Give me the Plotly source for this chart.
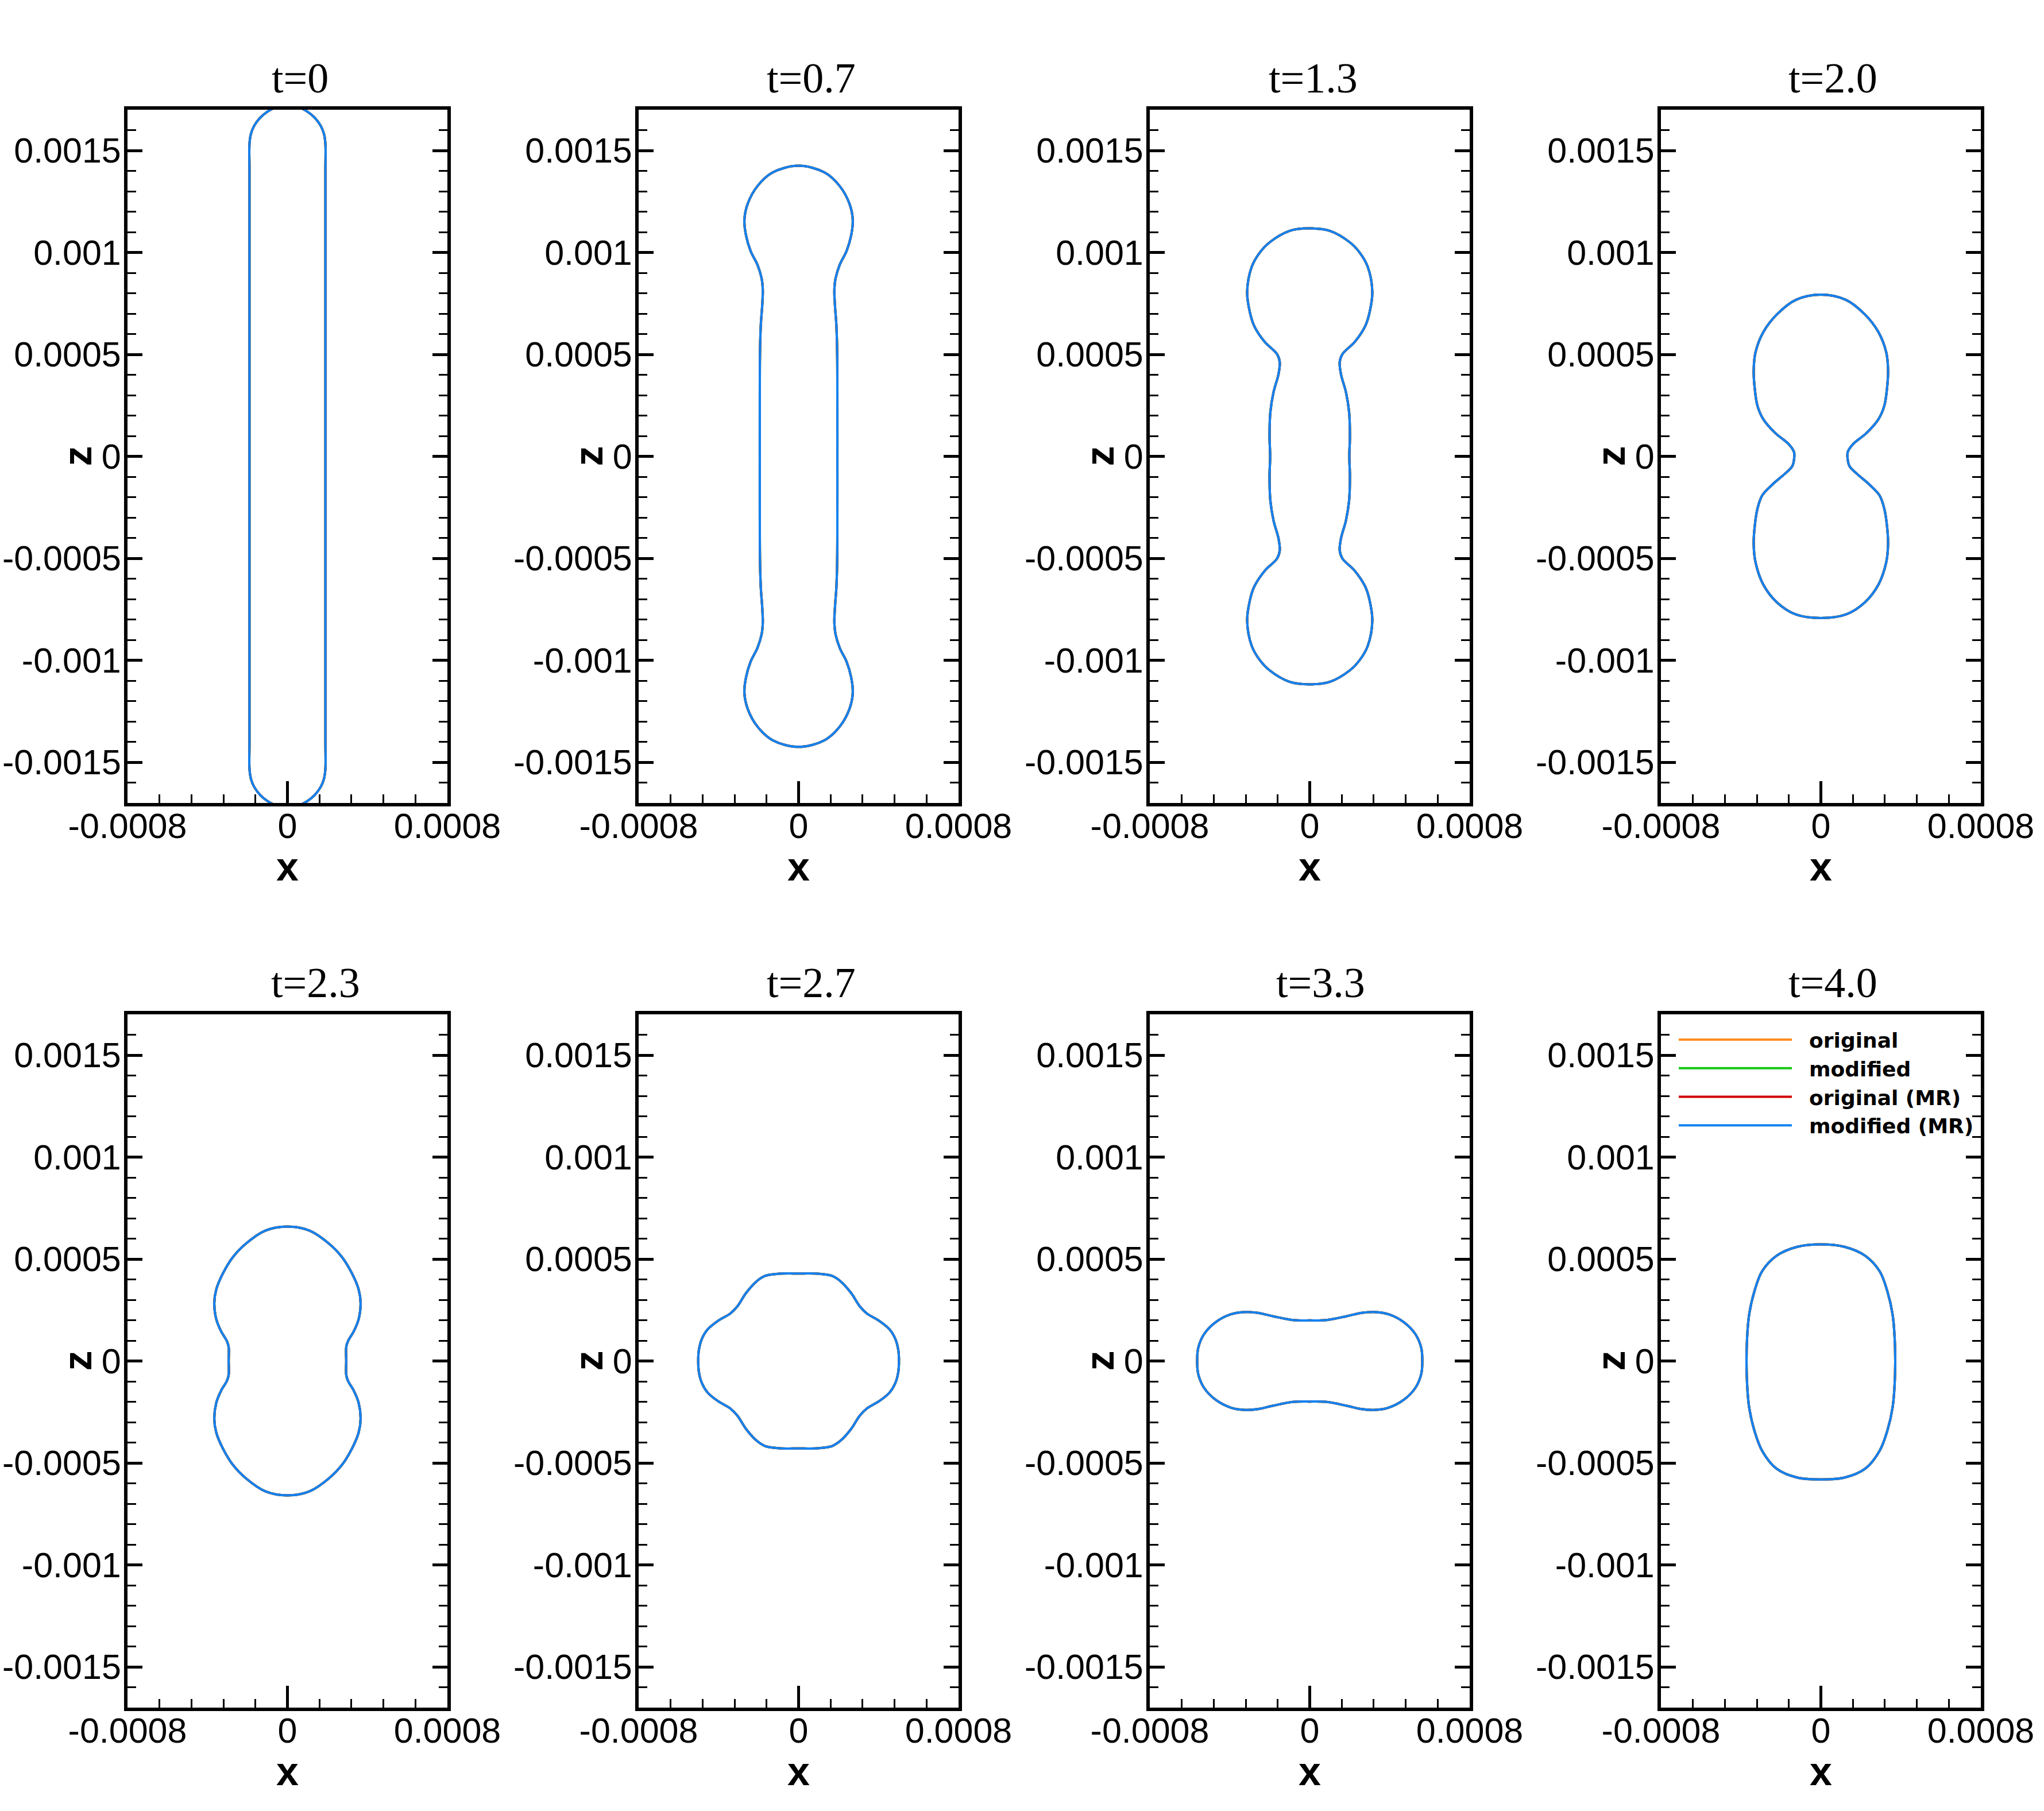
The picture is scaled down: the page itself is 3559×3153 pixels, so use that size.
import plotly.graph_objects as go

W, H = 3559, 3153

TITLES = ["t=0", "t=0.7", "t=1.3", "t=2.0", "t=2.3", "t=2.7", "t=3.3", "t=4.0"]
SERIES = ["original", "modified", "original (MR)", "modified (MR)"]
COLORS = ["#ff8c1e", "#14c814", "#d20000", "#1482f0"]

Y_TICKS = [-0.0015, -0.001, -0.0005, 0, 0.0005, 0.001, 0.0015]
Y_TICKTEXT = ["-0.0015", "-0.001", "-0.0005", "0", "0.0005", "0.001", "0.0015"]
X_TICKS = [-0.0008, 0, 0.0008]
X_TICKTEXT = ["-0.0008", "0", "0.0008"]

# Right half of each drop outline (x >= 0), listed from top to bottom
R_T00 = [0, 0.000061, 0.000101, 0.000137, 0.000167, 0.000183, 0.00019, 0.00019, 0.00019, 0.00019,
         0.00019, 0.00019, 0.00019, 0.000183, 0.000167, 0.000137, 0.000101, 0.000061, 0]
Z_T00 = [0.00172, 0.00171, 0.00169, 0.00166, 0.00162, 0.00158, 0.00153, 0.0014, 0.0007, 0.0,
         -0.0007, -0.0014, -0.00153, -0.00158, -0.00162, -0.00166, -0.00169, -0.00171, -0.00172]

R_T07 = [0, 0.00013, 0.000206, 0.000254, 0.000271, 0.000263, 0.00024, 0.000206, 0.000185, 0.000179,
         0.000182, 0.000189, 0.000193, 0.000194, 0.000194, 0.000194, 0.000193, 0.000189, 0.000182,
         0.000179, 0.000185, 0.000206, 0.00024, 0.000263, 0.000271, 0.000254, 0.000206, 0.00013, 0]
Z_T07 = [0.001425, 0.001392, 0.001325, 0.00124, 0.00116, 0.001084, 0.001007, 0.00094, 0.000873, 0.000816,
         0.000739, 0.000643, 0.000509, 0.00025, 0.0, -0.00025, -0.000509, -0.000643, -0.000739,
         -0.000816, -0.000873, -0.00094, -0.001007, -0.001084, -0.00116, -0.00124, -0.001325, -0.001392, -0.001425]

R_T13 = [0, 0.0001, 0.0002, 0.00025, 0.00029, 0.000313, 0.0003, 0.000278, 0.000225, 0.000164, 0.00015,
         0.000156, 0.000181, 0.000197, 0.000201, 0.000198, 0.000201, 0.000197, 0.000181, 0.000156,
         0.00015, 0.000164, 0.000225, 0.000278, 0.0003, 0.000313, 0.00029, 0.00025, 0.0002, 0.0001, 0]
Z_T13 = [0.001118, 0.001106, 0.00105, 0.000999, 0.00093, 0.000807, 0.000709, 0.00064, 0.000561, 0.000502, 0.000463,
         0.000404, 0.000315, 0.000217, 0.000098, 0.0, -0.000098, -0.000217, -0.000315, -0.000404,
         -0.000463, -0.000502, -0.000561, -0.00064, -0.000709, -0.000807, -0.00093, -0.000999, -0.00105, -0.001106, -0.001118]

R_T20 = [0, 0.000124, 0.00022, 0.000288, 0.000327, 0.000336, 0.000331, 0.000317, 0.000288, 0.00023,
         0.000162, 0.000135, 0.000133, 0.000143, 0.000182, 0.00024, 0.000293, 0.000317, 0.000331,
         0.000336, 0.000327, 0.000288, 0.00022, 0.000124, 0]
Z_T20 = [0.000793, 0.000768, 0.000696, 0.000609, 0.00051, 0.000423, 0.000335, 0.000247, 0.000182, 0.000116,
         0.000061, 0.000023, -0.000004, -0.000048, -0.000087, -0.000136, -0.000191, -0.000256, -0.000344,
         -0.000431, -0.000519, -0.000629, -0.000716, -0.000776, -0.000793]

R_T23 = [0, 0.000111, 0.000207, 0.000274, 0.000323, 0.000356, 0.000366, 0.000356, 0.000332, 0.000303,
         0.000294, 0.000294, 0.000294, 0.000303, 0.000332, 0.000356, 0.000366, 0.000356, 0.000323,
         0.000274, 0.000207, 0.000111, 0]
Z_T23 = [0.000659, 0.000639, 0.000576, 0.000508, 0.000429, 0.000351, 0.000283, 0.000205, 0.000146, 0.000098,
         0.000068, 0.0, -0.000068, -0.000098, -0.000146, -0.000205, -0.000283, -0.000351, -0.000429,
         -0.000508, -0.000576, -0.000639, -0.000659]

R_T27 = [0, 0.000094, 0.000168, 0.000212, 0.000263, 0.000307, 0.000344, 0.000403, 0.000455, 0.000484,
         0.000499, 0.000502, 0.000499, 0.000484, 0.000455, 0.000403, 0.000344, 0.000307, 0.000263,
         0.000212, 0.000168, 0.000094, 0]
Z_T27 = [0.000429, 0.000428, 0.000417, 0.000389, 0.000333, 0.000267, 0.000231, 0.000197, 0.000155, 0.000108,
         0.000052, 0.0, -0.000052, -0.000108, -0.000155, -0.000197, -0.000231, -0.000267, -0.000333,
         -0.000389, -0.000417, -0.000428, -0.000429]

R_T33 = [0, 0.000085, 0.000182, 0.000259, 0.000322, 0.000394, 0.000471, 0.000529, 0.000558, 0.000563,
         0.000558, 0.000529, 0.000471, 0.000394, 0.000322, 0.000259, 0.000182, 0.000085, 0]
Z_T33 = [0.000199, 0.000201, 0.000219, 0.000236, 0.00024, 0.000229, 0.00019, 0.000131, 0.000063, 0.0,
         -0.000063, -0.000131, -0.00019, -0.000229, -0.00024, -0.000236, -0.000219, -0.000201, -0.000199]

R_T40 = [0, 0.000118, 0.000222, 0.000294, 0.000333, 0.000359, 0.000369, 0.000372, 0.000369, 0.000359,
         0.000333, 0.000294, 0.000222, 0.000118, 0]
Z_T40 = [0.000572, 0.00056, 0.000516, 0.00044, 0.00034, 0.000226, 0.000113, 0.0, -0.000113, -0.000226,
         -0.00034, -0.00044, -0.000528, -0.000572, -0.000581]

PROFILES = [(R_T00, Z_T00), (R_T07, Z_T07), (R_T13, Z_T13), (R_T20, Z_T20),
            (R_T23, Z_T23), (R_T27, Z_T27), (R_T33, Z_T33), (R_T40, Z_T40)]


def closed_outline(r, z):
    """Mirror the right half-profile to x<0 and close the loop, starting mid-side."""
    n = len(r)
    xs = list(r) + [-v for v in r[-2:0:-1]]
    zs = list(z) + list(z[-2:0:-1])
    k = min(range(n), key=lambda i: abs(z[i]))
    xs = xs[k:] + xs[:k] + [xs[k]]
    zs = zs[k:] + zs[:k] + [zs[k]]
    return xs, zs


# ---- layout geometry (pixels) ----
COL_LEFT = [222, 1112, 2002, 2892]
BOX_W = 557
ROW_TOP = [191, 1766]
BOX_H = 1207
TITLE_CX = [522, 1412, 2286, 3191, 549, 1412, 2299, 3191]

TICK_FONT = dict(family="Liberation Sans, Arial, sans-serif", size=61, color="black")
LABEL_FONT = dict(family="Liberation Sans, Arial, sans-serif", size=70, color="black", weight="bold")

fig = go.Figure()
layout = dict(
    width=W, height=H, margin=dict(l=0, r=0, t=0, b=0, pad=0), autosize=False,
    paper_bgcolor="white", plot_bgcolor="white",
    showlegend=True,
)
annotations = []

for p in range(8):
    row, col = divmod(p, 4)
    xs, zs = closed_outline(*PROFILES[p])
    ax = "" if p == 0 else str(p + 1)
    for s in range(4):
        fig.add_trace(go.Scatter(
            x=xs, y=zs, mode="lines", name="\u00a0\u00a0" + SERIES[s],
            line=dict(color=COLORS[s], width=4, shape="spline", smoothing=1.0),
            xaxis="x" + ax, yaxis="y" + ax,
            showlegend=(p == 0), legendgroup=SERIES[s], hoverinfo="skip",
        ))
    x0 = COL_LEFT[col]
    x1 = x0 + BOX_W
    y0 = ROW_TOP[row]
    y1 = y0 + BOX_H
    xd = [x0 / W, x1 / W]
    yd = [1 - y1 / H, 1 - y0 / H]
    layout["xaxis" + ax] = dict(
        domain=xd, range=[-0.0008, 0.0008], anchor="y" + ax, automargin=False,
        tickmode="array", tickvals=X_TICKS, ticktext=X_TICKTEXT,
        ticks="inside", ticklen=38, tickwidth=5, tickcolor="black",
        showline=True, linewidth=6, linecolor="black", mirror=True,
        showgrid=False, zeroline=False, tickfont=TICK_FONT, ticklabelstandoff=-18,
        minor=dict(ticks="inside", ticklen=15, tickwidth=2.5, tickcolor="black",
                   tickmode="linear", tick0=-0.0008, dtick=0.00016, showgrid=False),
        fixedrange=True,
    )
    layout["yaxis" + ax] = dict(
        domain=yd, range=[-0.0017, 0.0017], anchor="x" + ax, automargin=False,
        tickmode="array", tickvals=Y_TICKS, ticktext=Y_TICKTEXT,
        ticks="inside", ticklen=26, tickwidth=5, tickcolor="black",
        showline=True, linewidth=6, linecolor="black", mirror="ticks",
        showgrid=False, zeroline=False, tickfont=TICK_FONT, ticklabelstandoff=-7,
        minor=dict(ticks="inside", ticklen=15, tickwidth=2.5, tickcolor="black",
                   tickmode="linear", tick0=0, dtick=0.0001, showgrid=False),
        fixedrange=True,
    )
    cx = (x0 + x1) / 2
    cy = (y0 + y1) / 2
    annotations.append(dict(
        text=TITLES[p], x=TITLE_CX[p] / W, y=1 - (y0 - 55) / H, xref="paper", yref="paper",
        xanchor="center", yanchor="middle", showarrow=False,
        font=dict(family="Liberation Serif, Times New Roman, serif", size=74, color="black"),
    ))
    annotations.append(dict(
        text="x", x=cx / W, y=1 - (y1 + 111) / H, xref="paper", yref="paper",
        xanchor="center", yanchor="middle", showarrow=False, font=LABEL_FONT,
    ))
    annotations.append(dict(
        text="z", x=(x0 - 88) / W, y=1 - cy / H, xref="paper", yref="paper",
        xanchor="center", yanchor="middle", showarrow=False, textangle=-90, font=LABEL_FONT,
    ))

layout["annotations"] = annotations
layout["legend"] = dict(
    x=2918 / W, y=1 - 1780 / H, xanchor="left", yanchor="top",
    bgcolor="rgba(0,0,0,0)", borderwidth=0, itemwidth=197, tracegroupgap=0,
    font=dict(family="DejaVu Sans, Liberation Sans, sans-serif", size=36, color="black", weight="bold"),
    traceorder="normal",
)
fig.update_layout(**layout)
fig.write_html("out.html")
